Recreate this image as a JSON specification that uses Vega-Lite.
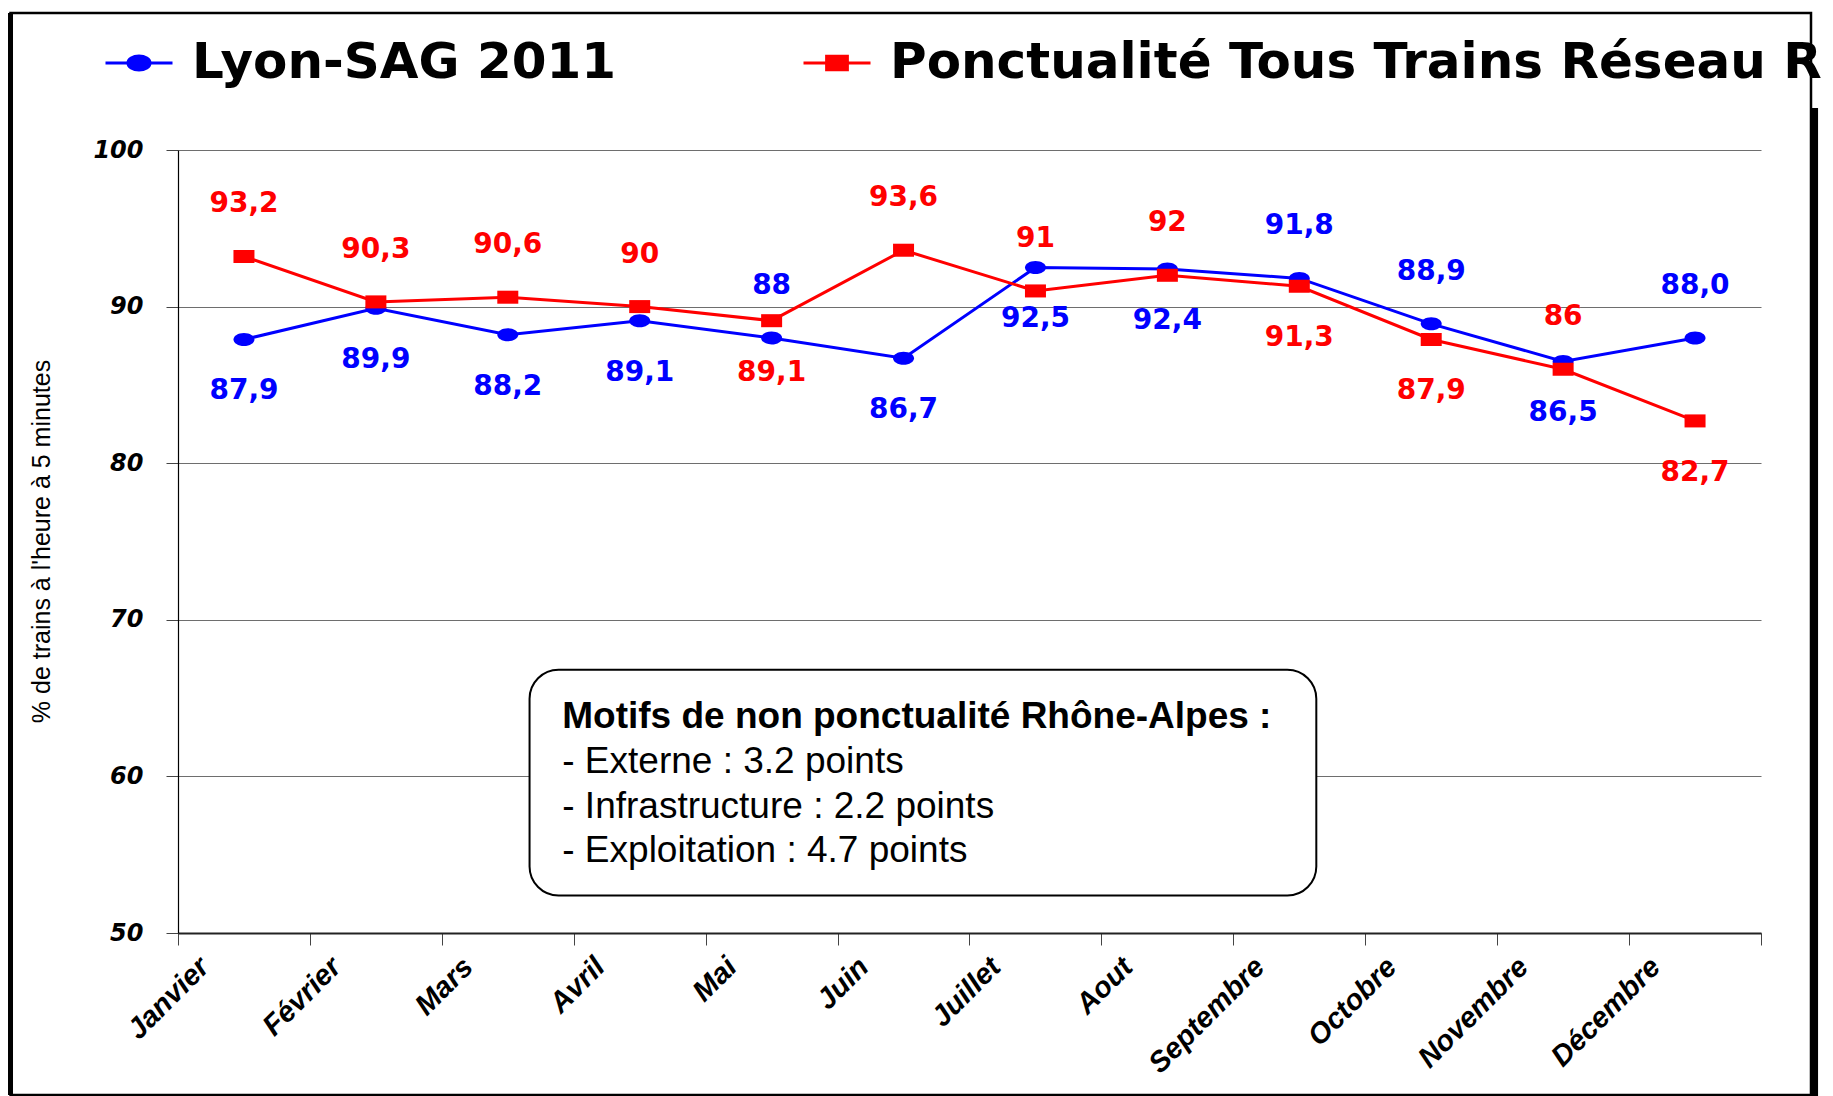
{
  "$schema": "https://vega.github.io/schema/vega-lite/v6.json",
  "width": 1583,
  "height": 783,
  "autosize": {"type": "none"},
  "padding": {"left": 178, "top": 150, "right": 72, "bottom": 163},
  "background": "white",
  "config": {"view": {"stroke": null}, "font": "Liberation Sans"},
  "layer": [
    {
      "data": {
        "values": [
          {"mois": "Janvier", "serie": "Lyon-SAG 2011", "valeur": 87.9, "etiquette": "87,9"},
          {"mois": "Février", "serie": "Lyon-SAG 2011", "valeur": 89.9, "etiquette": "89,9"},
          {"mois": "Mars", "serie": "Lyon-SAG 2011", "valeur": 88.2, "etiquette": "88,2"},
          {"mois": "Avril", "serie": "Lyon-SAG 2011", "valeur": 89.1, "etiquette": "89,1"},
          {"mois": "Mai", "serie": "Lyon-SAG 2011", "valeur": 88.0, "etiquette": "88"},
          {"mois": "Juin", "serie": "Lyon-SAG 2011", "valeur": 86.7, "etiquette": "86,7"},
          {"mois": "Juillet", "serie": "Lyon-SAG 2011", "valeur": 92.5, "etiquette": "92,5"},
          {"mois": "Aout", "serie": "Lyon-SAG 2011", "valeur": 92.4, "etiquette": "92,4"},
          {"mois": "Septembre", "serie": "Lyon-SAG 2011", "valeur": 91.8, "etiquette": "91,8"},
          {"mois": "Octobre", "serie": "Lyon-SAG 2011", "valeur": 88.9, "etiquette": "88,9"},
          {"mois": "Novembre", "serie": "Lyon-SAG 2011", "valeur": 86.5, "etiquette": "86,5"},
          {"mois": "Décembre", "serie": "Lyon-SAG 2011", "valeur": 88.0, "etiquette": "88,0"},
          {"mois": "Janvier", "serie": "Ponctualité Tous Trains Réseau R", "valeur": 93.2, "etiquette": "93,2"},
          {"mois": "Février", "serie": "Ponctualité Tous Trains Réseau R", "valeur": 90.3, "etiquette": "90,3"},
          {"mois": "Mars", "serie": "Ponctualité Tous Trains Réseau R", "valeur": 90.6, "etiquette": "90,6"},
          {"mois": "Avril", "serie": "Ponctualité Tous Trains Réseau R", "valeur": 90.0, "etiquette": "90"},
          {"mois": "Mai", "serie": "Ponctualité Tous Trains Réseau R", "valeur": 89.1, "etiquette": "89,1"},
          {"mois": "Juin", "serie": "Ponctualité Tous Trains Réseau R", "valeur": 93.6, "etiquette": "93,6"},
          {"mois": "Juillet", "serie": "Ponctualité Tous Trains Réseau R", "valeur": 91.0, "etiquette": "91"},
          {"mois": "Aout", "serie": "Ponctualité Tous Trains Réseau R", "valeur": 92.0, "etiquette": "92"},
          {"mois": "Septembre", "serie": "Ponctualité Tous Trains Réseau R", "valeur": 91.3, "etiquette": "91,3"},
          {"mois": "Octobre", "serie": "Ponctualité Tous Trains Réseau R", "valeur": 87.9, "etiquette": "87,9"},
          {"mois": "Novembre", "serie": "Ponctualité Tous Trains Réseau R", "valeur": 86.0, "etiquette": "86"},
          {"mois": "Décembre", "serie": "Ponctualité Tous Trains Réseau R", "valeur": 82.7, "etiquette": "82,7"}
        ]
      },
      "encoding": {
        "x": {
          "field": "mois",
          "type": "nominal",
          "sort": null,
          "scale": {
            "type": "band",
            "paddingInner": 0,
            "paddingOuter": 0,
            "domain": ["Janvier", "Février", "Mars", "Avril", "Mai", "Juin", "Juillet", "Aout", "Septembre", "Octobre", "Novembre", "Décembre"]
          },
          "axis": {
            "title": null,
            "labelAngle": -45,
            "labelAlign": "right",
            "labelBaseline": "middle",
            "labelFont": "Liberation Sans",
            "labelFontSize": 29,
            "labelFontWeight": "bold",
            "labelFontStyle": "italic",
            "labelColor": "black",
            "labelOffset": -40,
            "labelPadding": 17,
            "tickBand": "extent",
            "tickSize": 12,
            "tickColor": "#444444",
            "domainColor": "#222222",
            "domainWidth": 2,
            "grid": false
          }
        },
        "y": {
          "field": "valeur",
          "type": "quantitative",
          "scale": {"domain": [50, 100], "nice": false, "zero": false},
          "axis": {
            "title": "% de trains à l'heure à 5 minutes",
            "values": [50, 60, 70, 80, 90, 100],
            "grid": true,
            "gridColor": "#6e6e6e",
            "gridWidth": 1.2,
            "domainColor": "black",
            "domainWidth": 1.2,
            "tickColor": "#444444",
            "tickSize": 12,
            "labelFont": "DejaVu Sans",
            "labelFontSize": 24,
            "labelFontWeight": "bold",
            "labelFontStyle": "italic",
            "labelColor": "black",
            "labelPadding": 23,
            "titleFont": "Liberation Sans",
            "titleFontSize": 25,
            "titleFontWeight": "normal",
            "titleColor": "black",
            "titleX": -137,
            "titleY": 391,
            "titleAngle": -90,
            "titleAlign": "center",
            "titleBaseline": "middle"
          }
        }
      },
      "layer": [
        {
          "mark": {"type": "point", "filled": true, "size": 4489, "strokeWidth": 3, "opacity": 1, "clip": true},
          "encoding": {
            "y": {"datum": 20, "type": "quantitative", "scale": {"domain": [50, 100], "nice": false, "zero": false}},
            "color": {
              "field": "serie",
              "type": "nominal",
              "scale": {"domain": ["Lyon-SAG 2011", "Ponctualité Tous Trains Réseau R"], "range": ["#0000ff", "#ff0000"]},
              "legend": {
                "title": null,
                "orient": "none",
                "legendX": -74,
                "legendY": -122,
                "direction": "horizontal",
                "columns": 2,
                "columnPadding": 180,
                "padding": 0,
                "symbolSize": 4489,
                "symbolStrokeWidth": 3,
                "symbolOpacity": 1,
                "labelOffset": 18,
                "labelFont": "DejaVu Sans",
                "labelFontSize": 50,
                "labelFontWeight": "bold",
                "labelColor": "black",
                "labelLimit": 3000,
                "labelBaseline": "middle"
              }
            },
            "shape": {
              "field": "serie",
              "type": "nominal",
              "scale": {
                "domain": ["Lyon-SAG 2011", "Ponctualité Tous Trains Réseau R"],
                "range": ["M-1,0L1,0M-0.33,0A0.33,0.21,0,1,1,0.33,0A0.33,0.21,0,1,1,-0.33,0Z", "M-1,0L1,0M-0.31,-0.2L0.31,-0.2L0.31,0.2L-0.31,0.2Z"]
              }
            },
            "stroke": {
              "field": "serie",
              "type": "nominal",
              "scale": {"domain": ["Lyon-SAG 2011", "Ponctualité Tous Trains Réseau R"], "range": ["#0000ff", "#ff0000"]}
            }
          }
        },
        {
          "mark": {"type": "line", "strokeWidth": 3},
          "encoding": {"color": {"field": "serie", "type": "nominal", "legend": null}}
        },
        {
          "transform": [{"filter": "datum.serie === 'Lyon-SAG 2011'"}],
          "mark": {"type": "point", "filled": true, "size": 441, "opacity": 1, "shape": "M-1,0A1,0.62,0,1,1,1,0A1,0.62,0,1,1,-1,0Z"},
          "encoding": {"color": {"field": "serie", "type": "nominal", "legend": null}}
        },
        {
          "transform": [{"filter": "datum.serie !== 'Lyon-SAG 2011'"}],
          "mark": {"type": "point", "filled": true, "size": 441, "opacity": 1, "shape": "M-1,-0.62L1,-0.62L1,0.62L-1,0.62Z"},
          "encoding": {"color": {"field": "serie", "type": "nominal", "legend": null}}
        },
        {
          "transform": [{"filter": "(datum.serie === 'Lyon-SAG 2011') === (indexof(['Mai','Septembre','Octobre','Décembre'], datum.mois) >= 0)"}],
          "mark": {"type": "text", "dy": -52, "font": "DejaVu Sans", "fontWeight": "bold", "fontSize": 28, "baseline": "middle"},
          "encoding": {
            "text": {"field": "etiquette", "type": "nominal"},
            "color": {"field": "serie", "type": "nominal", "legend": null}
          }
        },
        {
          "transform": [{"filter": "(datum.serie === 'Lyon-SAG 2011') !== (indexof(['Mai','Septembre','Octobre','Décembre'], datum.mois) >= 0)"}],
          "mark": {"type": "text", "dy": 52, "font": "DejaVu Sans", "fontWeight": "bold", "fontSize": 28, "baseline": "middle"},
          "encoding": {
            "text": {"field": "etiquette", "type": "nominal"},
            "color": {"field": "serie", "type": "nominal", "legend": null}
          }
        }
      ]
    },
    {
      "data": {
        "values": [
          {"titre": "Motifs de non ponctualité Rhône-Alpes :", "detail": "- Externe : 3.2 points\n- Infrastructure : 2.2 points\n- Exploitation : 4.7 points"}
        ]
      },
      "layer": [
        {
          "mark": {"type": "rect", "fill": "white", "stroke": "black", "strokeWidth": 2, "cornerRadius": 29},
          "encoding": {
            "x": {"datum": 2.665, "type": "quantitative", "scale": {"domain": [0, 12], "nice": false, "zero": false}, "axis": null},
            "x2": {"datum": 8.629},
            "y": {"datum": 66.81, "type": "quantitative", "scale": {"domain": [50, 100], "nice": false, "zero": false}},
            "y2": {"datum": 52.4}
          }
        },
        {
          "mark": {"type": "text", "align": "left", "baseline": "middle", "font": "Liberation Sans", "fontSize": 37, "fontWeight": "bold", "color": "black"},
          "encoding": {
            "x": {"datum": 2.913, "type": "quantitative", "axis": null},
            "y": {"datum": 63.82, "type": "quantitative"},
            "text": {"field": "titre", "type": "nominal"}
          }
        },
        {
          "mark": {"type": "text", "align": "left", "baseline": "middle", "font": "Liberation Sans", "fontSize": 37, "lineBreak": "\n", "lineHeight": 44.4, "color": "black"},
          "encoding": {
            "x": {"datum": 2.913, "type": "quantitative", "axis": null},
            "y": {"datum": 60.91, "type": "quantitative"},
            "text": {"field": "detail", "type": "nominal"}
          }
        },
        {
          "mark": {"type": "rect", "fill": null, "fillOpacity": 0, "stroke": "black", "strokeWidth": 2.5},
          "encoding": {
            "x": {"datum": -1.2697, "type": "quantitative", "axis": null},
            "x2": {"datum": 12.379},
            "y": {"datum": 108.748, "type": "quantitative", "scale": {"domain": [50, 100], "nice": false, "zero": false}},
            "y2": {"datum": 39.655}
          }
        },
        {
          "mark": {"type": "rule", "stroke": "black", "strokeWidth": 5},
          "encoding": {
            "x": {"datum": -1.2697, "type": "quantitative", "axis": null},
            "y": {"datum": 108.748, "type": "quantitative", "scale": {"domain": [50, 100], "nice": false, "zero": false}},
            "y2": {"datum": 39.655}
          }
        },
        {
          "mark": {"type": "rule", "stroke": "black", "strokeWidth": 7},
          "encoding": {
            "x": {"datum": 12.406, "type": "quantitative", "axis": null},
            "y": {"datum": 102.682, "type": "quantitative", "scale": {"domain": [50, 100], "nice": false, "zero": false}},
            "y2": {"datum": 39.59}
          }
        }
      ]
    }
  ],
  "resolve": {"scale": {"x": "independent"}}
}
